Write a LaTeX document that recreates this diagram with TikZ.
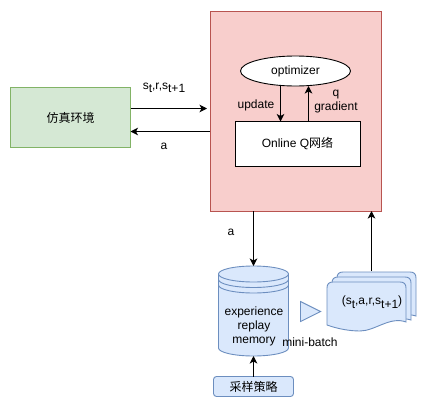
\documentclass[tikz,border=0pt]{standalone}
\usepackage{fontspec}
\setmainfont{Liberation Sans}
\newfontfamily\cjk{Noto Sans CJK SC}
\usetikzlibrary{arrows.meta,shapes.geometric,calc}
\newcommand{\lowsub}[1]{\raisebox{-3.5pt}{#1}}
\definecolor{pinkfill}{HTML}{F8CECC}\definecolor{pinkline}{HTML}{B85450}
\definecolor{greenfill}{HTML}{D5E8D4}\definecolor{greenline}{HTML}{82B366}
\definecolor{bluefill}{HTML}{DAE8FC}\definecolor{blueline}{HTML}{6C8EBF}
\tikzset{
  base/.style={inner sep=0pt,outer sep=0pt,font=\fontsize{12}{14}\selectfont,align=center,line width=0.9pt},
  pinkbox/.style={base,draw=pinkline,fill=pinkfill},
  greenbox/.style={base,draw=greenline,fill=greenfill},
  plainbox/.style={base,draw=black,fill=white},
  bluebox/.style={base,draw=blueline,fill=bluefill},
  bluepath/.style={draw=blueline,fill=bluefill,line width=0.9pt},
  blueline/.style={draw=blueline,line width=0.9pt},
  lab/.style={base},
  flow/.style={draw=black,line width=1pt,-{Stealth[length=7.5pt,width=7.5pt,inset=2pt]}},
}
\begin{document}
\begin{tikzpicture}[x=1pt,y=-1pt]
\useasboundingbox (0,0) rectangle (426,407);
% boxes
\node[greenbox,minimum width=120pt,minimum height=60pt] (env) at (70.5,117.5) {\cjk 仿真环境};
\node[pinkbox,minimum width=171pt,minimum height=200pt] (agent) at (295.5,111) {};
\node[base,draw=black,fill=white,ellipse,minimum width=110pt,minimum height=30pt] (opt) at (295.5,71) {optimizer};
\node[plainbox,minimum width=125pt,minimum height=45pt] (online) at (297.5,144) {Online Q{\cjk 网络}};
% cylinder
\node[base,minimum width=70pt,minimum height=90pt] (cyl) at (253.5,311) {};
\path[bluepath] (218.5,274) .. controls (218.5,269.6) and (234,266) .. (253.5,266)
  .. controls (273,266) and (288.5,269.6) .. (288.5,274) -- (288.5,348)
  .. controls (288.5,352.4) and (273,356) .. (253.5,356)
  .. controls (234,356) and (218.5,352.4) .. (218.5,348) -- cycle;
\foreach \yy in {274,279.5,285}{
  \draw[blueline] (218.5,\yy) .. controls (218.5,\yy+4.4) and (234,\yy+8) .. (253.5,\yy+8)
    .. controls (273,\yy+8) and (288.5,\yy+4.4) .. (288.5,\yy);
}
\node[lab] (cyltext) at (254,326) {experience\\replay\\memory};
% triangle
\path[bluepath] (300.5,301.5) -- (320.5,311.5) -- (300.5,321.5) -- cycle;
% document stack
\path[bluepath] (337,278) .. controls (337,274) and (339,272) .. (343,272) -- (410,272) .. controls (414,272) and (416,274) .. (416,278) -- (416,316) .. controls (400,311) and (385,322) .. (370,322) -- (337,322) -- cycle;
\path[bluepath] (332,283) .. controls (332,279) and (334,277) .. (338,277) -- (405,277) .. controls (409,277) and (411,279) .. (411,283) -- (411,320) .. controls (395,315) and (380,326) .. (365,326) -- (332,326) -- cycle;
\path[bluepath] (327,288) .. controls (327,284) and (329,282) .. (333,282) -- (400,282) .. controls (404,282) and (406,284) .. (406,288) -- (406,322) .. controls (390,316) and (375,331) .. (360,331) .. controls (350,331) and (338,329) .. (327,325) -- cycle;
\node[base,minimum width=79pt,minimum height=49pt] (docs) at (366.5,306.5) {};
\node[lab] (doctext) at (372,302) {(s\lowsub{t},a,r,s\lowsub{t+1})};
% sampling
\node[bluebox,rounded corners=3pt,minimum width=80pt,minimum height=20pt] (samp) at (253.5,386.5) {\cjk 采样策略};
% labels
\node[lab] (l1) at (164,88) {s\lowsub{t},r,s\lowsub{t+1}};
\node[lab] (l2) at (164,146) {a};
\node[lab] (l3) at (256,105) {update};
\node[lab] (l4) at (336,101.5) {q\\gradient};
\node[lab] (l5) at (231,232) {a};
\node[lab] (l6) at (310,342) {mini-batch};
% connectors
\draw[flow,shorten >=3pt] ([yshift=9pt]env.east) -- ([yshift=9pt]env.east -| agent.west);
\draw[flow] ([yshift=-14pt]env.east -| agent.west) -- ([yshift=-14pt]env.east);
\draw[flow] (opt.south -| 280.5,0) -- (online.north -| 280.5,0);
\draw[flow] (online.north -| 308.5,0) -- (opt.south -| 308.5,0);
\draw[flow] (agent.south -| cyl.north) -- (cyl.north);
\draw[flow] (371.5,271) coordinate (docup) -- (agent.south -| docup);
\draw[flow] (samp.north) -- (cyl.south);
\end{tikzpicture}
\end{document}
